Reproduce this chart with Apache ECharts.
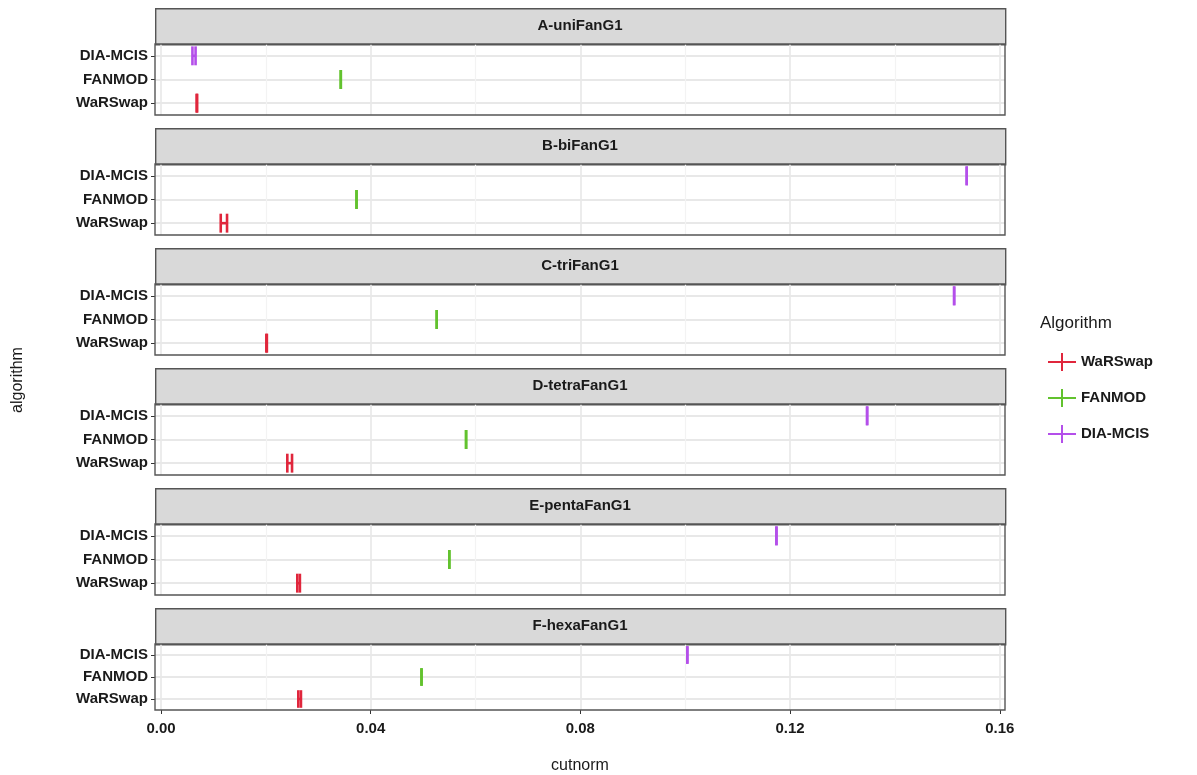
<!DOCTYPE html>
<html>
<head>
<meta charset="utf-8">
<script src="https://cdn.jsdelivr.net/npm/echarts@6/dist/echarts.min.js"></script>
<style>
  html, body { margin: 0; padding: 0; background: #fff; }
  #chart { width: 1197px; height: 775px; }
</style>
</head>
<body>
<div id="chart"></div>
<script>
// facets and categories
const panels = ['A-uniFanG1', 'B-biFanG1', 'C-triFanG1', 'D-tetraFanG1', 'E-pentaFanG1', 'F-hexaFanG1'];
const algorithms = ['WaRSwap', 'FANMOD', 'DIA-MCIS'];

// cutnorm ranges (low / high) per facet
const warswapLo = [0.0068, 0.0114, 0.0201, 0.0241, 0.0260, 0.0262];
const warswapHi = [0.0069, 0.0126, 0.0202, 0.0250, 0.0265, 0.0267];
const fanmodLo = [0.0343, 0.0373, 0.0526, 0.0582, 0.0550, 0.0497];
const fanmodHi = [0.0343, 0.0373, 0.0526, 0.0582, 0.0550, 0.0497];
const diaLo = [0.0060, 0.1537, 0.1513, 0.1347, 0.1174, 0.1004];
const diaHi = [0.0066, 0.1537, 0.1513, 0.1347, 0.1174, 0.1004];

const xMajorTicks = [0, 0.04, 0.08, 0.12, 0.16];
const xMinorTicks = [0.02, 0.06, 0.10, 0.14];
const yTicks = [0, 1, 2];

const colors = {
  'WaRSwap': '#E0263C',
  'FANMOD': '#62C22E',
  'DIA-MCIS': '#B44FEA'
};
const lows = { 'WaRSwap': warswapLo, 'FANMOD': fanmodLo, 'DIA-MCIS': diaLo };
const highs = { 'WaRSwap': warswapHi, 'FANMOD': fanmodHi, 'DIA-MCIS': diaHi };

const FONT = '"Liberation Sans", Arial, Helvetica, sans-serif';
const panelLeft = 155;
const panelWidth = 850;
const panelTop0 = 44;
const panelStep = 120;
const panelHeight = 71;
const stripHeight = 36;
const xMin = -0.00114;
const xMax = 0.161;

function renderErrorBar(params, api) {
  const cat = api.value(2);
  const p0 = api.coord([api.value(0), cat]);
  const p1 = api.coord([api.value(1), cat]);
  const h = api.size([0, 1])[1] * 0.8;
  const style = { stroke: api.visual('color'), lineWidth: 2.6 };
  return {
    type: 'group',
    children: [
      { type: 'line', shape: { x1: p0[0], y1: p0[1], x2: p1[0], y2: p1[1] }, style: style },
      { type: 'line', shape: { x1: p0[0], y1: p0[1] - h / 2, x2: p0[0], y2: p0[1] + h / 2 }, style: style },
      { type: 'line', shape: { x1: p1[0], y1: p1[1] - h / 2, x2: p1[0], y2: p1[1] + h / 2 }, style: style }
    ]
  };
}

let grids = [];
let xAxes = [];
let yAxes = [];
let series = [];
let graphics = [];

panels.forEach((name, i) => {
  const top = panelTop0 + i * panelStep;
  const isLast = i === panels.length - 1;
  grids.push({
    left: panelLeft,
    top: top,
    width: panelWidth,
    height: panelHeight,
    show: true,
    backgroundColor: 'transparent',
    borderColor: '#555',
    borderWidth: 1.4,
    z: 3
  });
  // major axis (labels only on the bottom facet)
  xAxes.push({
    type: 'value',
    gridIndex: i,
    min: xMin,
    max: xMax,
    position: 'bottom',
    axisLine: { show: false, onZero: false },
    axisTick: {
      show: isLast,
      customValues: xMajorTicks,
      length: 4,
      lineStyle: { color: '#333' }
    },
    axisLabel: {
      show: isLast,
      customValues: xMajorTicks,
      formatter: v => v.toFixed(2),
      color: '#1a1a1a',
      fontFamily: FONT,
      fontWeight: 'bold',
      fontSize: 15,
      margin: 11
    },
    splitLine: { show: true, lineStyle: { color: '#E8E8E8', width: 1.6 } },
    name: isLast ? 'cutnorm' : '',
    nameLocation: 'middle',
    nameGap: 48,
    nameTextStyle: { color: '#1a1a1a', fontFamily: FONT, fontSize: 16 }
  });
  // minor grid lines
  xAxes.push({
    type: 'value',
    gridIndex: i,
    min: xMin,
    max: xMax,
    position: 'top',
    axisLine: { show: false, onZero: false },
    axisTick: { show: false, customValues: xMinorTicks },
    axisLabel: { show: false, customValues: xMinorTicks },
    splitLine: { show: true, lineStyle: { color: '#F3F3F3', width: 1.2 } }
  });
  yAxes.push({
    type: 'value',
    gridIndex: i,
    min: -0.5,
    max: 2.5,
    axisLine: { show: false, onZero: false },
    axisTick: { show: true, customValues: yTicks, length: 4, lineStyle: { color: '#333' } },
    axisLabel: {
      customValues: yTicks,
      formatter: v => algorithms[v],
      color: '#1a1a1a',
      fontFamily: FONT,
      fontWeight: 'bold',
      fontSize: 15,
      margin: 7
    },
    splitLine: { show: true, lineStyle: { color: '#E8E8E8', width: 1.8 } }
  });

  algorithms.forEach((alg, k) => {
    series.push({
      name: alg,
      type: 'custom',
      xAxisIndex: i * 2,
      yAxisIndex: i,
      renderItem: renderErrorBar,
      itemStyle: { color: colors[alg] },
      encode: { x: [0, 1], y: 2 },
      data: [[lows[alg][i], highs[alg][i], k]],
      z: 5
    });
  });

  // facet strip
  graphics.push({
    type: 'rect',
    left: panelLeft,
    top: top - stripHeight,
    shape: { width: panelWidth, height: stripHeight },
    style: { fill: '#D9D9D9', stroke: '#555', lineWidth: 1.4 }
  });
  graphics.push({
    type: 'text',
    x: panelLeft + panelWidth / 2,
    y: top - stripHeight / 2,
    style: {
      text: name,
      fill: '#1a1a1a',
      font: 'bold 15px ' + FONT,
      textAlign: 'center',
      textVerticalAlign: 'middle'
    }
  });
});

// y title and legend title
graphics.push({
  type: 'text',
  x: 18,
  y: 380,
  rotation: Math.PI / 2,
  style: {
    text: 'algorithm',
    fill: '#1a1a1a',
    font: '16px ' + FONT,
    textAlign: 'center',
    textVerticalAlign: 'middle'
  }
});
graphics.push({
  type: 'text',
  x: 1040,
  y: 323,
  style: {
    text: 'Algorithm',
    fill: '#1a1a1a',
    font: '17px ' + FONT,
    textVerticalAlign: 'middle'
  }
});

const option = {
  animation: false,
  backgroundColor: '#fff',
  grid: grids,
  xAxis: xAxes,
  yAxis: yAxes,
  legend: {
    data: algorithms,
    orient: 'vertical',
    left: 1043,
    top: 348,
    itemWidth: 28,
    itemHeight: 18,
    itemGap: 18,
    icon: 'path://M0,8L28,8L28,10L0,10Z M13,0L15,0L15,18L13,18Z',
    textStyle: { color: '#1a1a1a', fontFamily: FONT, fontWeight: 'bold', fontSize: 15 }
  },
  graphic: graphics,
  series: series
};

const chart = echarts.init(document.getElementById('chart'));
chart.setOption(option);
</script>
</body>
</html>
